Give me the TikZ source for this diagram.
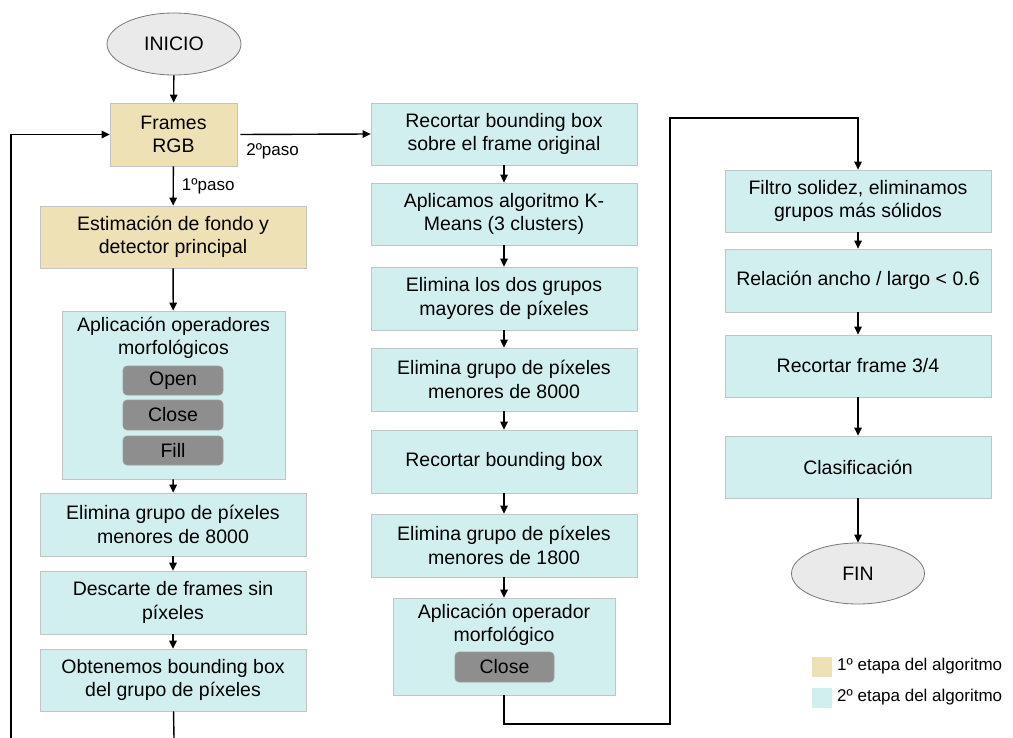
\documentclass[tikz,border=0pt]{standalone}
\usepackage{fontspec}
\setmainfont{Liberation Sans}
\usetikzlibrary{arrows.meta,shapes.geometric}
\definecolor{tanfill}{RGB}{238,225,182}
\definecolor{cyanfill}{RGB}{210,239,239}
\definecolor{boxline}{RGB}{196,196,196}
\definecolor{btnfill}{RGB}{142,142,142}
\definecolor{ellfill}{RGB}{234,234,234}
\definecolor{ellline}{RGB}{120,120,120}
\begin{document}
\begin{tikzpicture}[x=1pt,y=-1pt,
  every node/.style={font=\fontsize{19.5}{23.5}\selectfont, inner sep=0pt, align=center},
  stageone/.style={rectangle, draw=boxline, line width=0.8pt, fill=tanfill},
  stagetwo/.style={rectangle, draw=boxline, line width=0.8pt, fill=cyanfill},
  btn/.style={rectangle, rounded corners=4pt, draw=boxline!80!black, line width=0.6pt, fill=btnfill, minimum width=100, minimum height=29},
  term/.style={ellipse, draw=ellline, line width=0.8pt, fill=ellfill},
  conn/.style={line width=1.4pt, -{Triangle[length=8pt,width=7.5pt]}},
  plain/.style={line width=1.4pt},
  lbl/.style={font=\fontsize{17}{20}\selectfont}
]
\useasboundingbox (0,0) rectangle (1013,738);

% column 1
\node[term, minimum width=134, minimum height=62] (ini) at (174,44) {INICIO};
\node[stageone, minimum width=127, minimum height=63] (frames) at (173.5,134.5) {Frames\\RGB};
\node[stageone, minimum width=266, minimum height=62] (est) at (173,237) {Estimación de fondo y\\detector principal};
\node[stagetwo, minimum width=223, minimum height=168] (apl) at (173.5,395) {};
\node (apltxt) at (173.5,338) {Aplicación operadores\\morfológicos};
\node[btn] (open) at (173,380.5) {Open};
\node[btn, minimum height=30] (close) at (173,415) {Close};
\node[btn] (fill) at (173,450.5) {Fill};
\node[stagetwo, minimum width=266, minimum height=63] (elim1) at (173,524.5) {Elimina grupo de píxeles\\menores de 8000};
\node[stagetwo, minimum width=266, minimum height=63] (desc) at (173,602.5) {Descarte de frames sin\\píxeles};
\node[stagetwo, minimum width=266, minimum height=62] (obt) at (173,680) {Obtenemos bounding box\\del grupo de píxeles};

% column 2
\node[stagetwo, minimum width=266, minimum height=62] (rec1) at (504,134) {Recortar bounding box\\sobre el frame original};
\node[stagetwo, minimum width=266, minimum height=62] (kmeans) at (504,214) {Aplicamos algoritmo K-\\Means (3 clusters)};
\node[stagetwo, minimum width=266, minimum height=63] (elim2) at (504,298.5) {Elimina los dos grupos\\mayores de píxeles};
\node[stagetwo, minimum width=266, minimum height=63] (elim3) at (504,379.5) {Elimina grupo de píxeles\\menores de 8000};
\node[stagetwo, minimum width=266, minimum height=63] (rec2) at (504,461.5) {Recortar bounding box};
\node[stagetwo, minimum width=266, minimum height=63] (elim4) at (504,545.5) {Elimina grupo de píxeles\\menores de 1800};
\node[stagetwo, minimum width=222, minimum height=97] (apl2) at (504,646.5) {};
\node (apl2txt) at (504,625) {Aplicación operador\\morfológico};
\node[btn, minimum width=99, minimum height=30] (close2) at (504.5,667) {Close};

% column 3
\node[stagetwo, minimum width=266, minimum height=62] (filt) at (858,201) {Filtro solidez, eliminamos\\grupos más sólidos};
\node[stagetwo, minimum width=266, minimum height=63] (rel) at (858,280.5) {Relación ancho / largo < 0.6};
\node[stagetwo, minimum width=266, minimum height=62] (rec3) at (858,366) {Recortar frame 3/4};
\node[stagetwo, minimum width=266, minimum height=62] (clas) at (858,467) {Clasificación};
\node[term, minimum width=133, minimum height=61] (fin) at (858,573.5) {FIN};

% legend
\node[rectangle, fill=tanfill, minimum width=20, minimum height=20] (leg1) at (822,666.5) {};
\node[rectangle, fill=cyanfill, minimum width=20, minimum height=20] (leg2) at (822,697.5) {};
\node[lbl, anchor=west] (leg1t) at (837,666.5) {1º etapa del algoritmo};
\node[lbl, anchor=west] (leg2t) at (837,697.5) {2º etapa del algoritmo};

% coordinates for free ends
\coordinate (obtend) at (174,738);
\coordinate (loopstart) at (11,738);
\coordinate (loopcorner) at (11,134.5);
\coordinate (c2a) at (504,724);
\coordinate (c2b) at (670,724);
\coordinate (c2c) at (670,118);
\coordinate (c2d) at (858,118);

% connectors column 1
\draw[conn] (ini) -- (frames);
\draw[conn] (frames) -- node[lbl, right=8pt, pos=0.5] (p1) {1ºpaso} (est);
\draw[conn] (est) -- (apl);
\draw[conn] (apl) -- (elim1);
\draw[conn] (elim1) -- (desc);
\draw[conn] (desc) -- (obt);
\draw[plain] (obt) -- (obtend);
\draw[conn] (loopstart) -- (loopcorner) -- (frames.west);

% 2nd step
\draw[conn] ([xshift=3pt]frames.east) -- node[lbl, anchor=north west, pos=0.04, yshift=-8pt] (p2) {2ºpaso} (rec1.west);

% connectors column 2
\draw[conn] (rec1) -- (kmeans);
\draw[conn] (kmeans) -- (elim2);
\draw[conn] (elim2) -- (elim3);
\draw[conn] (elim3) -- (rec2);
\draw[conn] (rec2) -- (elim4);
\draw[conn] (elim4) -- (apl2);
\draw[conn] (apl2.south) -- (c2a) -- (c2b) -- (c2c) -- (c2d) -- (filt.north);

% connectors column 3
\draw[conn] (filt) -- (rel);
\draw[conn] (rel) -- (rec3);
\draw[conn] (rec3) -- (clas);
\draw[conn] (clas) -- (fin);
\end{tikzpicture}
\end{document}
